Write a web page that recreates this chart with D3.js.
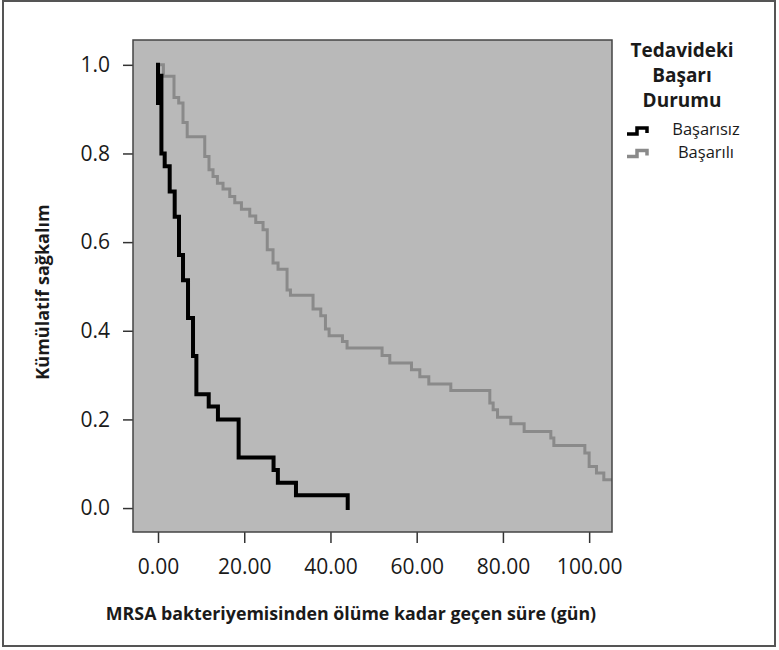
<!DOCTYPE html>
<html lang="tr">
<head>
<meta charset="UTF-8">
<title>Kaplan-Meier</title>
<script src="https://d3js.org/d3.v7.min.js"></script>
<style>
  body { margin: 0; background: #fff; }
  text { font-family: "Open Sans", sans-serif; fill: #1a1a1a; }
  .axis text { font-size: 21px; }
  .axis line { stroke: #333; stroke-width: 1.5; }
  .axis path { display: none; }
</style>
</head>
<body>
<div id="chart"></div>
<script>
// Başarısız group
var failDays = [0, 0, 0.79, 0.79, 1.55, 2.71, 3.87, 4.87, 5.8, 6.96, 8.12, 8.9, 11.76, 13.9, 18.7, 26.8, 27.8, 32, 44];
var failSurv = [1.0, 0.914, 0.98, 0.8, 0.771, 0.714, 0.657, 0.571, 0.514, 0.429, 0.343, 0.257, 0.229, 0.2, 0.114, 0.086, 0.057, 0.029, 0.0];

// Başarılı group
var okDays = [0, 1.25, 3.71, 4.8, 5.8, 6.77, 10.84, 11.83, 12.76, 13.78, 15.08, 16.64, 17.8, 19.35, 21.28, 22.67, 24.36, 25.34,
  26.68, 27.84, 29.93, 30.72, 35.96, 37.75, 38.84, 39.68, 42.78, 43.85, 51.97, 53.76, 58.79, 60.72, 62.81, 67.91,
  76.96, 77.73, 78.75, 81.83, 84.92, 91.11, 91.81, 99.0, 100.0, 101.7, 103.4, 105.3];
var okSurv = [1.0, 0.974, 0.926, 0.914, 0.87, 0.838, 0.793, 0.763, 0.748, 0.733, 0.72, 0.703, 0.689, 0.674, 0.659, 0.644, 0.628, 0.583,
  0.553, 0.539, 0.492, 0.48, 0.449, 0.434, 0.404, 0.389, 0.376, 0.361, 0.344, 0.327, 0.312, 0.296, 0.28, 0.265,
  0.237, 0.222, 0.205, 0.19, 0.173, 0.158, 0.141, 0.124, 0.094, 0.079, 0.064, 0.064];

var xTicks = [0, 20, 40, 60, 80, 100];
var yTicks = [0, 0.2, 0.4, 0.6, 0.8, 1.0];
var groups = ["Başarısız", "Başarılı"];
var colors = ["#000000", "#8a8a8a"];

var W = 779, H = 650;
var margin = {top: 40, right: 167, bottom: 118, left: 133};
var width = W - margin.left - margin.right,
    height = H - margin.top - margin.bottom;

var root = d3.select("#chart").append("svg")
    .attr("width", W)
    .attr("height", H);

// outer frame
root.append("rect")
    .attr("x", 3).attr("y", 1)
    .attr("width", 772).attr("height", 645)
    .attr("fill", "#fff")
    .attr("stroke", "#555")
    .attr("stroke-width", 2);

var svg = root.append("g")
    .attr("transform", "translate(" + margin.left + "," + margin.top + ")");

var x = d3.scaleLinear().domain([-5.8, 105.3]).range([0, width]);
var y = d3.scaleLinear().domain([-0.054, 1.056]).range([height, 0]);

svg.append("defs").append("clipPath").attr("id", "clip")
  .append("rect").attr("width", width).attr("height", height);

svg.append("rect")
    .attr("width", width)
    .attr("height", height)
    .attr("fill", "#b9b9b9");

svg.append("g")
    .attr("class", "y axis")
    .call(d3.axisLeft(y).tickValues(yTicks).tickFormat(d3.format(".1f")).tickSize(10).tickPadding(13));

svg.append("g")
    .attr("class", "x axis")
    .attr("transform", "translate(0," + height + ")")
    .call(d3.axisBottom(x).tickValues(xTicks).tickFormat(d3.format(".2f")).tickSize(11).tickPadding(16));

var line = d3.line()
    .x(function(d) { return x(d[0]); })
    .y(function(d) { return y(d[1]); })
    .curve(d3.curveStepAfter);

var series = [
  d3.zip(failDays, failSurv),
  d3.zip(okDays, okSurv)
];

// gray drawn first, black on top
svg.append("g").attr("clip-path", "url(#clip)")
  .selectAll("path")
    .data(series.slice().reverse())
  .enter().append("path")
    .attr("d", line)
    .attr("fill", "none")
    .attr("stroke", function(d, i) { return colors[1 - i]; })
    .attr("stroke-width", function(d, i) { return i == 0 ? 3 : 4; })
    .attr("stroke-linecap", "square");

// plot frame
svg.append("rect")
    .attr("width", width)
    .attr("height", height)
    .attr("fill", "none")
    .attr("stroke", "#444")
    .attr("stroke-width", 1.5);

// axis titles
root.append("text")
    .attr("x", 351).attr("y", 620)
    .attr("text-anchor", "middle")
    .style("font-size", "17.8px")
    .style("font-weight", "bold")
    .text("MRSA bakteriyemisinden ölüme kadar geçen süre (gün)");

root.append("text")
    .attr("transform", "translate(49,292) rotate(-90)")
    .attr("text-anchor", "middle")
    .style("font-size", "18px")
    .style("font-weight", "bold")
    .text("Kümülatif sağkalım");

// legend
var legTitle = ["Tedavideki", "Başarı", "Durumu"];
root.selectAll(".legtitle")
    .data(legTitle)
  .enter().append("text")
    .attr("class", "legtitle")
    .attr("x", 682)
    .attr("y", function(d, i) { return 57 + i * 25; })
    .attr("text-anchor", "middle")
    .style("font-size", "19px")
    .style("font-weight", "bold")
    .text(function(d) { return d; });

var legend = root.selectAll(".legend")
    .data(groups)
  .enter().append("g")
    .attr("class", "legend")
    .attr("transform", function(d, i) { return "translate(0," + i * 22.5 + ")"; });

legend.append("path")
    .attr("d", "M627,134H637V128H647V133")
    .attr("fill", "none")
    .attr("stroke", function(d, i) { return colors[i]; })
    .attr("stroke-width", 3.5);

legend.append("text")
    .attr("x", 706)
    .attr("y", 135)
    .attr("text-anchor", "middle")
    .style("font-size", "16.5px")
    .text(function(d) { return d; });
</script>
</body>
</html>
